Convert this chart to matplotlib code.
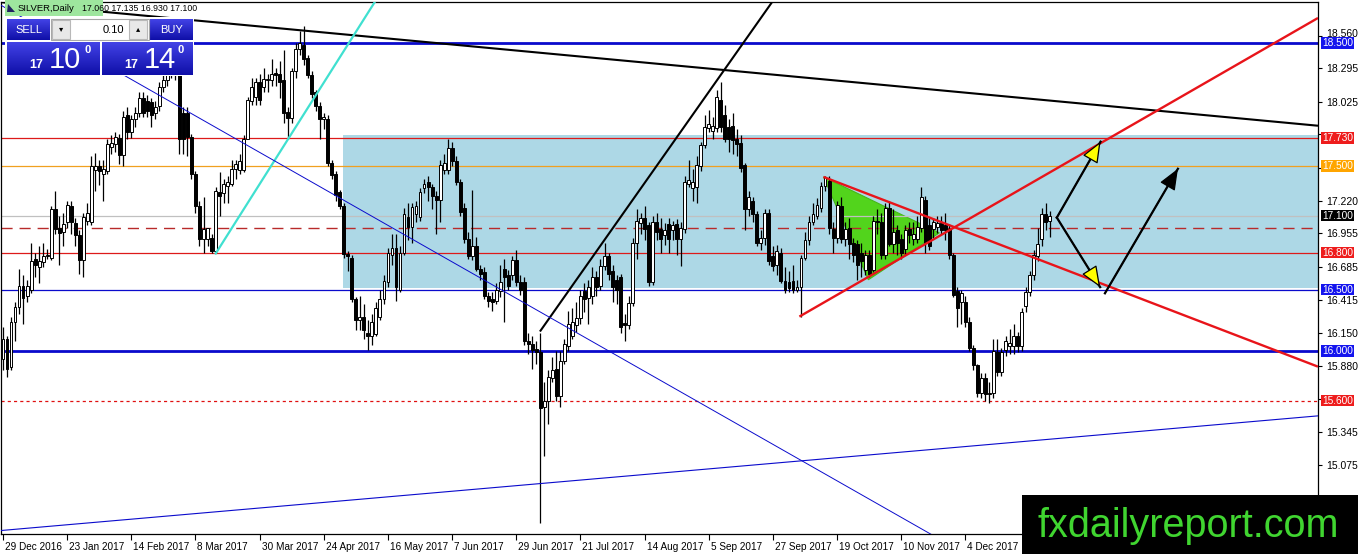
import matplotlib
matplotlib.use("Agg")
import matplotlib.pyplot as plt
import matplotlib.transforms as mtransforms
from matplotlib.patches import Rectangle, Polygon
import numpy as np

plt.rcParams['font.family'] = ['Liberation Sans', 'DejaVu Sans']

# --- daily OHLC, SILVER, one value per bar (bar 0 = 29 Dec 2016) ---
opens = [
    15.94, 16.10, 15.87, 16.24, 16.36, 16.53, 16.45, 16.50, 16.75, 16.68,
    16.72, 16.77, 16.76, 17.15, 17.00, 16.97, 17.05, 17.18, 17.04, 16.94,
    16.74, 17.06, 17.05, 17.47, 17.50, 17.44, 17.46, 17.66, 17.68, 17.73,
    17.59, 17.92, 17.78, 17.88, 17.93, 18.05, 18.03, 18.02, 17.93, 17.99,
    18.14, 18.20, 18.30, 18.35, 18.30, 17.93, 17.93, 17.74, 17.44, 17.18,
    16.91, 16.91, 16.92, 16.81, 17.29, 17.28, 17.34, 17.36, 17.48, 17.47,
    17.47, 17.72, 18.03, 18.06, 18.18, 18.14, 18.20, 18.20, 18.26, 18.25,
    18.20, 17.94, 17.89, 18.27, 18.45, 18.48, 18.38, 18.24, 18.10, 17.99,
    17.88, 17.88, 17.53, 17.44, 17.29, 17.18, 16.79, 16.76, 16.42, 16.25,
    16.28, 16.15, 16.12, 16.14, 16.28, 16.42, 16.56, 16.78, 16.84, 16.50,
    16.80, 17.09, 17.01, 17.11, 17.09, 17.32, 17.37, 17.33, 17.26, 17.23,
    17.47, 17.47, 17.65, 17.54, 17.37, 17.16, 16.91, 16.77, 16.85, 16.67,
    16.64, 16.45, 16.42, 16.41, 16.49, 16.67, 16.62, 16.62, 16.74, 16.56,
    16.56, 16.08, 16.06, 16.02, 15.99, 15.55, 15.60, 15.78, 15.86, 15.64,
    15.92, 16.04, 16.12, 16.21, 16.27, 16.49, 16.43, 16.45, 16.60, 16.53,
    16.69, 16.77, 16.65, 16.58, 16.60, 16.23, 16.21, 16.39, 16.88, 17.04,
    17.08, 17.02, 16.56, 17.05, 16.99, 16.94, 17.03, 16.98, 17.03, 16.91,
    16.99, 17.36, 17.32, 17.33, 17.50, 17.67, 17.81, 17.79, 17.81, 18.04,
    17.92, 17.82, 17.83, 17.72, 17.69, 17.51, 17.15, 17.22, 17.11, 16.88,
    16.92, 17.12, 16.77, 16.70, 16.80, 16.57, 16.56, 16.57, 16.50, 16.52,
    16.76, 16.90, 17.05, 17.10, 17.16, 17.34, 17.38, 16.99, 16.92, 17.18,
    16.91, 17.00, 16.88, 16.87, 16.80, 16.66, 16.78, 16.66, 17.06, 17.05,
    16.78, 17.16, 16.87, 16.98, 16.91, 16.83, 16.99, 16.91, 16.91, 17.00,
    17.23, 17.02, 16.99, 17.01, 17.04, 17.02, 16.99, 16.78, 16.49, 16.40,
    16.40, 16.24, 16.03, 15.89, 15.66, 15.78, 15.65, 15.66, 15.99, 15.83,
    16.01, 16.04, 16.04, 16.12, 16.04, 16.37, 16.48, 16.62, 16.77, 16.91,
    17.11, 17.06]

highs = [
    16.20, 16.12, 16.28, 16.40, 16.67, 16.62, 16.58, 16.88, 16.80, 16.85,
    16.88, 16.83, 17.18, 17.30, 17.10, 17.12, 17.22, 17.22, 17.08, 16.98,
    17.12, 17.20, 17.58, 17.61, 17.55, 17.55, 17.72, 17.75, 17.78, 17.76,
    17.95, 17.98, 17.92, 17.98, 18.10, 18.10, 18.08, 18.05, 18.03, 18.18,
    18.28, 18.38, 18.45, 18.45, 18.35, 17.98, 17.98, 17.76, 17.46, 17.22,
    17.25, 17.00, 16.95, 17.33, 17.45, 17.40, 17.42, 17.55, 17.55, 17.60,
    17.75, 18.06, 18.22, 18.22, 18.25, 18.30, 18.25, 18.37, 18.30, 18.35,
    18.44, 17.98, 18.30, 18.50, 18.60, 18.64, 18.40, 18.27, 18.12, 18.02,
    17.93, 17.92, 17.55, 17.46, 17.31, 17.20, 16.81, 16.78, 16.44, 16.45,
    16.38, 16.25, 16.30, 16.40, 16.50, 16.62, 16.84, 16.95, 16.95, 16.85,
    17.16, 17.20, 17.20, 17.22, 17.32, 17.40, 17.42, 17.36, 17.30, 17.55,
    17.60, 17.72, 17.70, 17.58, 17.40, 17.20, 16.97, 17.31, 16.93, 16.70,
    16.68, 16.48, 16.48, 16.55, 16.70, 16.75, 16.66, 16.77, 16.82, 16.62,
    16.60, 16.15, 16.12, 16.08, 16.15, 15.75, 15.85, 15.95, 16.00, 16.00,
    16.10, 16.33, 16.35, 16.40, 16.50, 16.55, 16.58, 16.68, 16.65, 16.75,
    16.88, 16.80, 16.70, 16.62, 16.63, 16.30, 16.45, 16.92, 17.15, 17.12,
    17.18, 17.05, 17.10, 17.12, 17.08, 17.04, 17.08, 17.06, 17.07, 17.05,
    17.42, 17.55, 17.48, 17.58, 17.70, 17.92, 17.96, 17.90, 18.12, 18.18,
    18.00, 17.88, 17.93, 17.80, 17.75, 17.53, 17.30, 17.25, 17.14, 16.98,
    17.15, 17.15, 16.85, 16.86, 16.84, 16.68, 16.65, 16.70, 16.58, 16.78,
    16.97, 17.10, 17.20, 17.24, 17.37, 17.42, 17.42, 17.05, 17.22, 17.25,
    17.05, 17.08, 16.92, 16.90, 16.88, 16.82, 16.82, 17.10, 17.15, 17.12,
    17.20, 17.22, 17.15, 17.02, 16.95, 17.02, 17.05, 17.05, 17.10, 17.33,
    17.26, 17.08, 17.08, 17.10, 17.10, 17.12, 17.03, 16.80, 16.52, 16.50,
    16.45, 16.28, 16.05, 15.90, 15.82, 15.82, 15.75, 16.10, 16.10, 16.03,
    16.12, 16.18, 16.22, 16.16, 16.35, 16.52, 16.65, 16.82, 17.00, 17.16,
    17.20, 17.135]

lows = [
    15.85, 15.79, 15.85, 16.08, 16.30, 16.22, 16.40, 16.47, 16.60, 16.55,
    16.68, 16.75, 16.74, 16.95, 16.70, 16.85, 17.00, 16.95, 16.85, 16.63,
    16.60, 17.02, 17.02, 17.30, 17.35, 17.22, 17.44, 17.60, 17.62, 17.52,
    17.50, 17.72, 17.73, 17.82, 17.90, 17.90, 17.90, 17.82, 17.88, 17.95,
    18.10, 18.15, 18.22, 18.20, 17.60, 17.60, 17.58, 17.40, 17.12, 16.85,
    16.80, 16.85, 16.80, 16.80, 17.10, 17.20, 17.20, 17.34, 17.40, 17.44,
    17.45, 17.72, 18.00, 18.00, 18.00, 18.10, 18.10, 18.15, 18.15, 18.05,
    17.85, 17.72, 17.85, 18.22, 18.40, 18.32, 18.22, 18.05, 17.95, 17.72,
    17.80, 17.50, 17.40, 17.22, 17.15, 16.76, 16.65, 16.40, 16.17, 16.17,
    16.10, 16.01, 16.05, 16.12, 16.25, 16.38, 16.52, 16.70, 16.41, 16.48,
    16.78, 16.90, 16.88, 17.05, 17.06, 17.28, 17.22, 17.15, 16.95, 17.05,
    17.44, 17.44, 17.50, 17.35, 17.10, 16.88, 16.75, 16.74, 16.65, 16.58,
    16.42, 16.36, 16.33, 16.38, 16.44, 16.24, 16.50, 16.58, 16.53, 16.46,
    16.05, 15.98, 15.86, 15.90, 14.61, 15.15, 15.41, 15.75, 15.60, 15.55,
    15.90, 16.00, 16.10, 16.16, 16.22, 16.32, 16.22, 16.38, 16.45, 16.50,
    16.66, 16.58, 16.40, 16.38, 16.15, 16.08, 16.18, 16.37, 16.75, 16.95,
    16.90, 16.53, 16.54, 16.90, 16.80, 16.86, 16.80, 16.90, 16.78, 16.69,
    16.96, 17.33, 17.22, 17.20, 17.46, 17.65, 17.78, 17.72, 17.78, 17.78,
    17.70, 17.62, 17.60, 17.58, 17.45, 16.98, 17.10, 17.05, 16.85, 16.82,
    16.86, 16.70, 16.65, 16.62, 16.55, 16.47, 16.48, 16.47, 16.48, 16.28,
    16.74, 16.86, 17.02, 17.07, 17.13, 17.30, 16.95, 16.80, 16.88, 16.88,
    16.85, 16.75, 16.72, 16.58, 16.60, 16.62, 16.60, 16.64, 16.95, 16.75,
    16.75, 16.85, 16.80, 16.78, 16.75, 16.78, 16.88, 16.86, 16.88, 16.97,
    16.80, 16.82, 16.92, 16.96, 16.95, 16.90, 16.75, 16.44, 16.20, 16.22,
    16.20, 16.00, 15.85, 15.63, 15.62, 15.60, 15.58, 15.62, 15.80, 15.80,
    15.96, 15.98, 15.98, 15.99, 16.00, 16.32, 16.45, 16.58, 16.73, 16.85,
    16.98, 16.93]

closes = [
    16.10, 15.86, 16.24, 16.36, 16.53, 16.43, 16.53, 16.73, 16.70, 16.73,
    16.77, 16.78, 17.15, 16.99, 16.96, 17.03, 17.19, 17.05, 16.94, 16.74,
    17.09, 17.12, 17.50, 17.50, 17.46, 17.48, 17.68, 17.69, 17.74, 17.59,
    17.90, 17.78, 17.88, 17.93, 18.05, 17.93, 17.95, 17.92, 17.98, 18.14,
    18.20, 18.30, 18.35, 18.28, 17.72, 17.72, 17.74, 17.44, 17.18, 16.91,
    16.99, 17.00, 16.81, 17.30, 17.26, 17.36, 17.37, 17.48, 17.52, 17.54,
    17.72, 18.04, 18.14, 18.18, 18.04, 18.21, 18.20, 18.25, 18.24, 18.18,
    17.93, 17.89, 18.27, 18.45, 18.50, 18.37, 18.24, 18.09, 17.99, 17.88,
    17.90, 17.53, 17.43, 17.27, 17.18, 16.79, 16.77, 16.42, 16.25, 16.28,
    16.17, 16.12, 16.24, 16.35, 16.42, 16.57, 16.80, 16.84, 16.52, 16.80,
    17.11, 17.01, 17.17, 17.18, 17.29, 17.36, 17.33, 17.26, 17.23, 17.51,
    17.53, 17.65, 17.54, 17.37, 17.13, 16.91, 16.77, 16.85, 16.67, 16.63,
    16.45, 16.41, 16.40, 16.50, 16.56, 16.60, 16.53, 16.74, 16.56, 16.50,
    16.08, 16.06, 16.01, 15.99, 15.54, 15.60, 15.79, 15.85, 15.64, 15.92,
    16.06, 16.22, 16.24, 16.27, 16.45, 16.42, 16.52, 16.60, 16.52, 16.69,
    16.77, 16.63, 16.52, 16.50, 16.20, 16.21, 16.39, 16.88, 17.06, 17.08,
    16.99, 16.56, 17.05, 16.97, 16.91, 16.98, 16.91, 17.02, 16.91, 17.00,
    17.37, 17.39, 17.37, 17.51, 17.67, 17.82, 17.84, 17.83, 18.06, 17.82,
    17.72, 17.72, 17.71, 17.68, 17.49, 17.15, 17.25, 17.11, 16.88, 16.92,
    17.12, 16.73, 16.69, 16.81, 16.57, 16.50, 16.51, 16.50, 16.52, 16.76,
    16.90, 17.05, 17.11, 17.19, 17.34, 17.41, 17.00, 16.92, 17.19, 16.91,
    16.99, 16.87, 16.78, 16.70, 16.73, 16.78, 16.63, 17.06, 17.05, 16.78,
    17.16, 16.87, 16.97, 16.88, 16.80, 16.98, 16.94, 16.95, 17.01, 17.25,
    16.88, 16.85, 17.05, 17.04, 16.98, 16.98, 16.78, 16.46, 16.35, 16.47,
    16.24, 16.03, 15.89, 15.66, 15.78, 15.65, 15.66, 16.00, 15.83, 15.99,
    16.08, 16.07, 16.12, 16.04, 16.32, 16.48, 16.62, 16.78, 16.87, 17.11,
    17.05, 17.10]

date_labels = ['29 Dec 2016', '23 Jan 2017', '14 Feb 2017', '8 Mar 2017',
               '30 Mar 2017', '24 Apr 2017', '16 May 2017', '7 Jun 2017',
               '29 Jun 2017', '21 Jul 2017', '14 Aug 2017', '5 Sep 2017',
               '27 Sep 2017', '19 Oct 2017', '10 Nov 2017', '4 Dec 2017']
price_ticks = [18.560, 18.295, 18.025, 17.760, 17.490, 17.220, 16.955, 16.685,
               16.415, 16.150, 15.880, 15.610, 15.345, 15.075, 14.805]
hidden_ticks = [17.760, 17.490, 15.610, 14.805]

# horizontal levels: price, colour, width, style
levels = [(18.50, '#0a0acc', 2.0, '-'), (17.73, '#dd1a1a', 0.9, '-'),
          (17.50, '#f0a020', 0.9, '-'), (17.10, '#c0c0c0', 0.9, '-'),
          (17.00, '#b82a2a', 1.0, (0, (8, 5))), (16.80, '#dd1a1a', 0.9, '-'),
          (16.50, '#0a0acc', 0.9, '-'), (16.00, '#0a0acc', 2.0, '-'),
          (15.60, '#e01010', 0.9, (0, (2.5, 2.5)))]
# price boxes on the axis: price, background, text colour
axis_boxes = [(18.50, '#1414ee', 'white'), (17.73, '#ee1c1c', 'white'),
              (17.50, '#ffa500', 'white'), (17.10, 'black', 'white'),
              (16.80, '#ee1c1c', 'white'), (16.50, '#1414ee', 'white'),
              (16.00, '#1414ee', 'white'), (15.60, '#ee1c1c', 'white')]

# zone + drawn objects (bar index, price)
zone = (84.8, 16.51, 17.75)
black_down = [(-0.5, 18.831), (327.93, 17.829)]
black_up = [(133.9, 16.16), (195.0, 18.98)]
cyan_up = [(52.9, 16.785), (95.0, 18.95)]
blue_down = [(-0.5, 18.806), (240.0, 14.357)]
blue_up = [(-0.5, 14.546), (327.93, 15.476)]
red_up = [(198.6, 16.281), (327.93, 18.703)]
red_down = [(204.6, 17.414), (327.93, 15.875)]
green_tri = [(204.6, 17.414), (215.8, 16.58), (233.5, 16.96)]
zig_start = (262.8, 17.084)
up_tip = (273.7, 17.70)
down_tip = (273.6, 16.52)
up2_start = (274.8, 16.47)
up2_tip = (293.0, 17.48)

W, H = 1358, 554
fig = plt.figure(figsize=(W / 100, H / 100), dpi=100, facecolor='white')
ax = fig.add_axes([1 / W, 20 / H, 1317 / W, 532 / H])
ax.set_xlim(-0.4988, 327.93)
ax.set_ylim(14.5178, 18.8325)

ax.add_patch(Rectangle((zone[0], zone[1]), 327.93 - zone[0], zone[2] - zone[1],
                       facecolor='#add8e6', edgecolor='none', zorder=0.5))
ax.add_patch(Polygon(green_tri, closed=True, facecolor='#52d41c',
                     edgecolor='#45b818', lw=0.8, zorder=1))

# candles
o = np.array(opens)
h = np.array(highs)
l = np.array(lows)
c = np.array(closes)
idx = np.arange(len(c))
ax.vlines(idx, l, h, color='black', lw=0.9, zorder=3)
bull = c >= o
body_h = np.maximum(np.abs(c - o), 0.004)
ax.bar(idx, body_h, width=0.72, bottom=np.minimum(o, c),
       color=np.where(bull, 'white', 'black'), edgecolor='black',
       linewidth=0.7, zorder=3.5)

for p, col, lw, ls in levels:
    ax.axhline(p, color=col, lw=lw, ls=ls, zorder=2.5)

def seg(pts, **kw):
    ax.plot([pts[0][0], pts[1][0]], [pts[0][1], pts[1][1]],
            solid_capstyle='butt', **kw)

seg(black_down, color='black', lw=1.5, zorder=4)
seg(black_up, color='black', lw=1.5, zorder=4)
seg(cyan_up, color='#40e0d0', lw=1.6, zorder=4)
seg(blue_down, color='#0a0acc', lw=0.7, zorder=4)
seg(blue_up, color='#0a0acc', lw=0.8, zorder=4)
seg(red_up, color='#e8141a', lw=1.7, zorder=4)
seg(red_down, color='#e8141a', lw=1.7, zorder=4)

def arrow(a, b, fc):
    ax.plot([a[0], b[0]], [a[1], b[1]], color='black', lw=1.6, zorder=5)
    ax.annotate('', xy=b, xytext=a, zorder=6,
                arrowprops=dict(arrowstyle='-|>,head_length=1.1,head_width=0.45',
                                fc=fc, ec='black', lw=0.9, shrinkA=0, shrinkB=0,
                                mutation_scale=12))

arrow(zig_start, up_tip, 'yellow')
arrow(zig_start, down_tip, 'yellow')
arrow(up2_start, up2_tip, 'black')

# axes
for s in ax.spines.values():
    s.set_color('black')
    s.set_linewidth(0.9)
ax.yaxis.tick_right()
ax.set_yticks(price_ticks)
ax.set_yticklabels(['' if t in hidden_ticks else '%.3f' % t for t in price_ticks])
ax.tick_params(axis='y', direction='out', length=3, width=0.8, pad=3,
               labelsize=7.5, colors='black')
lift = mtransforms.ScaledTranslation(0, 3 / 100, fig.dpi_scale_trans)
for lbl in ax.get_yticklabels():
    if lbl.get_text() == '18.560':
        lbl.set_transform(lbl.get_transform() + lift)
ax.set_xticks(np.arange(0, 16 * len(date_labels), 16))
ax.set_xticklabels(date_labels)
ax.tick_params(axis='x', direction='out', length=4, width=0.8, pad=1.5,
               labelsize=7.2, colors='black')
shift = mtransforms.ScaledTranslation(2 / 100, 0, fig.dpi_scale_trans)
for lbl in ax.get_xticklabels():
    lbl.set_horizontalalignment('left')
    lbl.set_transform(lbl.get_transform() + shift)

trans = mtransforms.blended_transform_factory(ax.transAxes, ax.transData)
off = mtransforms.ScaledTranslation(4 / 100, 0, fig.dpi_scale_trans)
for p, bg, fg in axis_boxes:
    ax.text(1.0, p, '%.3f' % p, transform=trans + off, ha='left', va='center',
            fontsize=7.3, color=fg, clip_on=False, zorder=20,
            bbox=dict(boxstyle='square,pad=0.08', fc=bg, ec='none'))

# overlay in pixel coordinates: header, trade panel, logo
ov = fig.add_axes([0, 0, 1, 1], zorder=5)
ov.patch.set_alpha(0)
ov.axis('off')

def grad(x0, y0, x1, y1, top, bot):
    t = np.linspace(0, 1, 30)[:, None, None]
    img = np.array(top)[None, None, :] * (1 - t) + np.array(bot)[None, None, :] * t
    ov.imshow(img, extent=(x0, x1, y1, y0), origin='upper', aspect='auto',
              interpolation='bilinear', zorder=2)

ov.add_patch(Rectangle((5, 0), 98, 16, facecolor='#9ee69e', edgecolor='none'))
ov.add_patch(Polygon([(7, 12), (15, 12), (8, 4)], closed=True, facecolor='#202060'))
ov.text(18, 8.5, 'SILVER,Daily', fontsize=6.8, va='center', ha='left')
ov.text(82, 8.5, '17.060 17.135 16.930 17.100', fontsize=6.3, va='center', ha='left')

ov.add_patch(Rectangle((5, 17), 189, 59, facecolor='white', edgecolor='none', zorder=1))
light, dark = (0.26, 0.26, 0.90), (0.06, 0.06, 0.66)
grad(7, 19, 50, 40, light, dark)
grad(150, 19, 193, 40, light, dark)
grad(7, 42, 100, 75, light, dark)
grad(102, 42, 193, 75, light, dark)
ov.add_patch(Rectangle((51, 19), 98, 21, facecolor='white', edgecolor='#a8a8a8', lw=0.8, zorder=2))
ov.add_patch(Rectangle((52, 20), 18, 19, facecolor='#e8e8e8', edgecolor='#b8b8b8', lw=0.8, zorder=3))
ov.add_patch(Rectangle((129, 20), 18, 19, facecolor='#e8e8e8', edgecolor='#b8b8b8', lw=0.8, zorder=3))
ov.text(61, 29.5, '\u25be', fontsize=6, ha='center', va='center', zorder=4)
ov.text(138, 29.5, '\u25b4', fontsize=6, ha='center', va='center', zorder=4)
ov.text(124, 30, '0.10', fontsize=8, ha='right', va='center', zorder=4)
ov.text(28.5, 30, 'SELL', fontsize=8, color='white', ha='center', va='center', zorder=4)
ov.text(171.5, 30, 'BUY', fontsize=8, color='white', ha='center', va='center', zorder=4)
for x17, xbig, xsup, big in [(36, 65, 88, '10'), (131, 160, 181, '14')]:
    ov.text(x17, 68, '17', fontsize=9, color='white', fontweight='bold',
            ha='center', va='baseline', zorder=4)
    ov.text(xbig, 68, big, fontsize=21, color='white', ha='center',
            va='baseline', zorder=4)
    ov.text(xsup, 53, '0', fontsize=8, color='white', fontweight='bold',
            ha='center', va='baseline', zorder=4)

ov.add_patch(Rectangle((1022, 495), 336, 59, facecolor='black', edgecolor='none', zorder=5))
ov.text(1038, 537, 'fxdailyreport.com', fontsize=28.5, color='#40d530',
        ha='left', va='baseline', zorder=6)

ov.set_xlim(0, W)
ov.set_ylim(H, 0)

fig.savefig('out.png', dpi=100, facecolor='white')
